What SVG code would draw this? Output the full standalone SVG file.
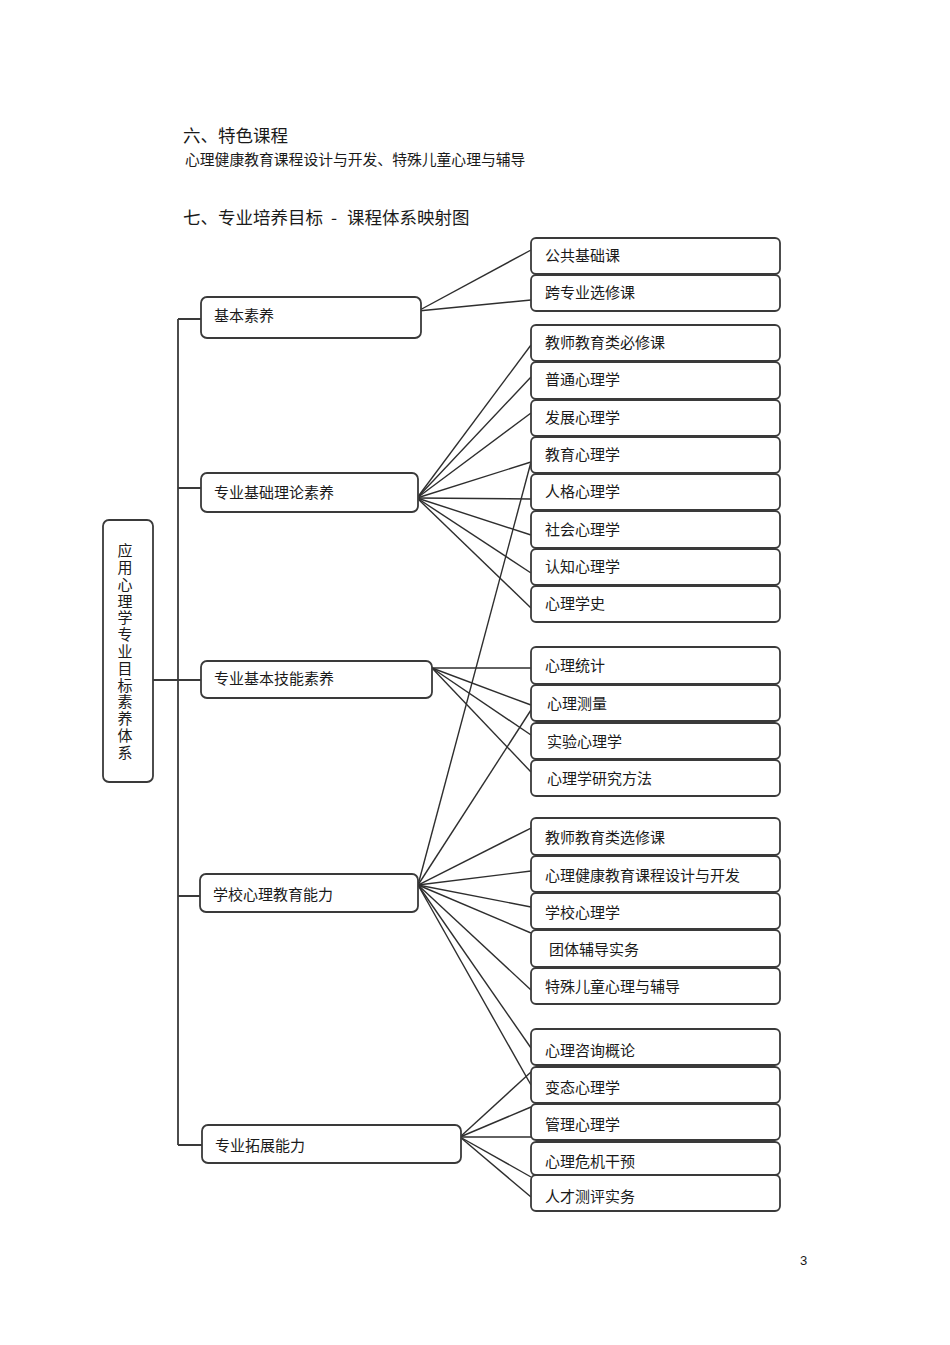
<svg xmlns="http://www.w3.org/2000/svg" width="950" height="1345" viewBox="0 0 950 1345">
<style>
text{font-family:"Noto Sans CJK SC","Liberation Sans",sans-serif;fill:#1a1a1a}
.h{font-size:17.5px}
.s{font-size:14.8px}
.t{font-size:15px}
.box{fill:#fff;stroke:#3a3a3a;stroke-width:1.8}
.ln{stroke:#2e2e2e;stroke-width:1.4;fill:none}
.tr{stroke:#3a3a3a;stroke-width:1.8;fill:none}
</style>
<rect width="950" height="1345" fill="#fff"/>
<text class="h" x="183" y="142">六、特色课程</text>
<text class="s" x="185" y="165">心理健康教育课程设计与开发、特殊儿童心理与辅导</text>
<text class="h" x="183" y="224">七、专业培养目标<tspan x="331">-</tspan><tspan x="347">课程体系映射图</tspan></text>
<text x="800" y="1265" style="font-size:13px;font-family:'Liberation Sans',sans-serif">3</text>

<g id="connectors">
<path class="tr" d="M178,319 V1145 M178,319 H201 M178,488 H201 M153,680 H201 M178,896 H200 M178,1145 H202"/>
<g class="ln">
<line x1="418" y1="311" x2="531" y2="250"/>
<line x1="418" y1="311" x2="531" y2="300"/>
<line x1="417" y1="498" x2="531" y2="345"/>
<line x1="417" y1="498" x2="531" y2="377"/>
<line x1="417" y1="498" x2="531" y2="413"/>
<line x1="417" y1="498" x2="531" y2="462"/>
<line x1="417" y1="498" x2="531" y2="499"/>
<line x1="417" y1="498" x2="531" y2="535"/>
<line x1="417" y1="498" x2="531" y2="573"/>
<line x1="417" y1="498" x2="531" y2="608"/>
<line x1="432" y1="668" x2="531" y2="668"/>
<line x1="432" y1="668" x2="531" y2="705"/>
<line x1="432" y1="668" x2="531" y2="735"/>
<line x1="432" y1="668" x2="531" y2="772"/>
<line x1="418" y1="885" x2="531" y2="462"/>
<line x1="418" y1="885" x2="531" y2="710"/>
<line x1="418" y1="885" x2="531" y2="828"/>
<line x1="418" y1="885" x2="531" y2="871"/>
<line x1="418" y1="885" x2="531" y2="907"/>
<line x1="418" y1="885" x2="531" y2="933"/>
<line x1="418" y1="885" x2="531" y2="990"/>
<line x1="418" y1="885" x2="531" y2="1048"/>
<line x1="418" y1="885" x2="531" y2="1085"/>
<line x1="460" y1="1137" x2="531" y2="1072"/>
<line x1="460" y1="1137" x2="531" y2="1107"/>
<line x1="460" y1="1137" x2="531" y2="1137"/>
<line x1="460" y1="1137" x2="531" y2="1177"/>
<line x1="460" y1="1137" x2="531" y2="1197"/>
</g>
</g>

<g id="root"><rect class="box" x="103" y="520" width="50" height="262" rx="6"/>
<text class="t" x="125" y="543" style="writing-mode:vertical-rl;letter-spacing:1.8px">应用心理学专业目标素养体系</text></g>

<g id="m1"><rect class="box" x="201" y="297" width="220" height="41" rx="6"/><text class="t" x="214" y="321">基本素养</text></g>
<g id="m2"><rect class="box" x="201" y="473" width="217" height="39" rx="6"/><text class="t" x="214" y="498">专业基础理论素养</text></g>
<g id="m3"><rect class="box" x="201" y="661" width="231" height="37" rx="6"/><text class="t" x="214" y="684">专业基本技能素养</text></g>
<g id="m4"><rect class="box" x="200" y="874" width="218" height="38" rx="6"/><text class="t" x="213" y="900">学校心理教育能力</text></g>
<g id="m5"><rect class="box" x="202" y="1125" width="259" height="38" rx="6"/><text class="t" x="215" y="1151">专业拓展能力</text></g>

<g id="c1"><rect class="box" x="531" y="238" width="249" height="36" rx="5"/><text class="t" x="545" y="261">公共基础课</text></g>
<g id="c2"><rect class="box" x="531" y="275" width="249" height="36" rx="5"/><text class="t" x="545" y="298">跨专业选修课</text></g>
<g id="c3"><rect class="box" x="531" y="325" width="249" height="36" rx="5"/><text class="t" x="545" y="348">教师教育类必修课</text></g>
<g id="c4"><rect class="box" x="531" y="362" width="249" height="37" rx="5"/><text class="t" x="545" y="385">普通心理学</text></g>
<g id="c5"><rect class="box" x="531" y="400" width="249" height="36" rx="5"/><text class="t" x="545" y="423">发展心理学</text></g>
<g id="c6"><rect class="box" x="531" y="437" width="249" height="36" rx="5"/><text class="t" x="545" y="460">教育心理学</text></g>
<g id="c7"><rect class="box" x="531" y="474" width="249" height="36" rx="5"/><text class="t" x="545" y="497">人格心理学</text></g>
<g id="c8"><rect class="box" x="531" y="511" width="249" height="37" rx="5"/><text class="t" x="545" y="535">社会心理学</text></g>
<g id="c9"><rect class="box" x="531" y="549" width="249" height="36" rx="5"/><text class="t" x="545" y="572">认知心理学</text></g>
<g id="c10"><rect class="box" x="531" y="586" width="249" height="36" rx="5"/><text class="t" x="545" y="609">心理学史</text></g>
<g id="c11"><rect class="box" x="531" y="647" width="249" height="37" rx="5"/><text class="t" x="545" y="671">心理统计</text></g>
<g id="c12"><rect class="box" x="531" y="685" width="249" height="36" rx="5"/><text class="t" x="547" y="709">心理测量</text></g>
<g id="c13"><rect class="box" x="531" y="723" width="249" height="36" rx="5"/><text class="t" x="547" y="747">实验心理学</text></g>
<g id="c14"><rect class="box" x="531" y="760" width="249" height="36" rx="5"/><text class="t" x="547" y="784">心理学研究方法</text></g>
<g id="c15"><rect class="box" x="531" y="818" width="249" height="37" rx="5"/><text class="t" x="545" y="843">教师教育类选修课</text></g>
<g id="c16"><rect class="box" x="531" y="856" width="249" height="36" rx="5"/><text class="t" x="545" y="881">心理健康教育课程设计与开发</text></g>
<g id="c17"><rect class="box" x="531" y="893" width="249" height="36" rx="5"/><text class="t" x="545" y="918">学校心理学</text></g>
<g id="c18"><rect class="box" x="531" y="930" width="249" height="37" rx="5"/><text class="t" x="549" y="955">团体辅导实务</text></g>
<g id="c19"><rect class="box" x="531" y="968" width="249" height="36" rx="5"/><text class="t" x="545" y="992">特殊儿童心理与辅导</text></g>
<g id="c20"><rect class="box" x="531" y="1029" width="249" height="36" rx="5"/><text class="t" x="545" y="1056">心理咨询概论</text></g>
<g id="c21"><rect class="box" x="531" y="1067" width="249" height="36" rx="5"/><text class="t" x="545" y="1093">变态心理学</text></g>
<g id="c22"><rect class="box" x="531" y="1104" width="249" height="36" rx="5"/><text class="t" x="545" y="1130">管理心理学</text></g>
<g id="c23"><rect class="box" x="531" y="1142" width="249" height="33" rx="5"/><text class="t" x="545" y="1167">心理危机干预</text></g>
<g id="c24"><rect class="box" x="531" y="1175" width="249" height="36" rx="5"/><text class="t" x="545" y="1202">人才测评实务</text></g>
</svg>
